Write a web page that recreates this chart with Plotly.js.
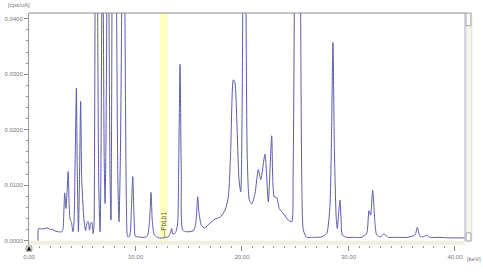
<!DOCTYPE html>
<html>
<head>
<meta charset="utf-8">
<script src="https://cdn.plot.ly/plotly-3.0.1.min.js"></script>
<style>
html,body{margin:0;padding:0;background:#fff;}
#chart{width:483px;height:272px;}
</style>
</head>
<body>
<div id="chart"></div>
<script>
const energyKeV = [
  0.85,0.90,1.20,1.50,1.70,1.90,2.20,2.50,2.80,3.10,
  3.20,3.27,3.35,3.47,3.58,3.68,3.77,3.87,3.98,4.12,
  4.22,4.33,4.45,4.53,4.64,4.74,4.85,4.95,5.08,5.20,
  5.32,5.45,5.57,5.68,5.80,5.90,6.02,6.10,6.15,6.20,
  6.33,6.45,6.55,6.67,6.75,6.83,6.905,6.98,7.06,7.14,
  7.22,7.30,7.40,7.51,7.62,7.70,7.74,7.79,8.01,8.23,
  8.35,8.45,8.58,8.70,8.85,9.01,9.15,9.27,9.45,9.60,
  9.74,9.86,9.98,10.20,10.50,10.80,11.10,11.30,11.46,11.58,
  11.74,11.90,12.20,12.60,12.90,13.10,13.30,13.40,13.50,13.75,
  13.95,14.05,14.18,14.30,14.43,14.80,15.43,15.65,15.84,15.96,
  16.20,16.50,17.00,17.46,17.93,18.40,18.72,18.94,19.18,19.34,
  19.50,19.72,19.88,20.07,20.22,20.38,20.50,20.69,20.91,21.22,
  21.53,21.76,22.16,22.47,22.79,23.03,23.26,23.50,23.88,24.35,
  24.67,24.80,24.91,25.21,25.51,25.62,25.76,26.07,26.50,27.00,
  27.50,27.95,28.25,28.40,28.54,28.68,28.85,28.95,29.08,29.20,
  29.30,29.42,29.83,30.50,31.20,31.70,31.92,32.08,32.27,32.49,
  32.65,33.00,33.33,33.74,34.50,35.50,36.24,36.46,36.71,37.05,
  37.34,37.65,38.50,39.50,40.90
];
const intensity = [
  0.0000,0.0022,0.0021,0.0022,0.0023,0.0021,0.0020,0.0017,0.0016,0.0016,
  0.0022,0.0050,0.0086,0.0058,0.0090,0.01245,0.0065,0.0037,0.0034,0.0016,
  0.0030,0.0140,0.0275,0.0130,0.0016,0.0110,0.0251,0.0110,0.0060,0.0030,
  0.0018,0.0033,0.0034,0.0019,0.0032,0.0033,0.0013,0.0025,0.0150,0.0410,
  0.1200,0.0410,0.0100,0.0016,0.0120,0.0410,0.0700,0.0410,0.0150,0.0067,
  0.0160,0.0410,0.0800,0.0410,0.0100,0.0037,0.0150,0.0410,0.1500,0.0410,
  0.0100,0.0034,0.0150,0.0410,0.1000,0.0410,0.0060,0.0007,0.0008,0.0050,
  0.01155,0.0045,0.0008,0.0007,0.0006,0.0006,0.0008,0.0030,0.0087,0.0035,
  0.0012,0.0008,0.0005,0.0005,0.0006,0.0007,0.0016,0.0022,0.0012,0.0014,
  0.0030,0.0120,0.0318,0.0120,0.0019,0.0016,0.0018,0.0030,0.0079,0.0050,
  0.0027,0.0023,0.0032,0.0039,0.0042,0.0055,0.0079,0.0164,0.0290,0.0284,
  0.0224,0.0110,0.0088,0.0410,0.1500,0.0410,0.0146,0.0073,0.0066,0.0085,
  0.0128,0.0110,0.0156,0.0070,0.0189,0.0079,0.0078,0.0058,0.0049,0.0037,
  0.0034,0.0120,0.0410,0.2000,0.0410,0.0100,0.0019,0.0006,0.0006,0.0006,
  0.0007,0.0013,0.0060,0.0180,0.0357,0.0160,0.0040,0.0022,0.0050,0.0073,
  0.0040,0.0010,0.0006,0.0006,0.0006,0.0013,0.0054,0.0046,0.0091,0.0031,
  0.0010,0.0007,0.0012,0.0006,0.0006,0.0006,0.0010,0.0024,0.0008,0.0007,
  0.0010,0.0006,0.0006,0.0005,0.0005
];
// Marked line (ROI band) and its label
const roiStart = 12.30;
const roiEnd = 13.05;
const roiLine = 12.61;
const roiLabel = "—PbLb1";
// Axis ranges and labels
const xRange = [0, 40.94];
const yRange = [-0.00078, 0.04103];
const yUnit = "[cps/uA]";
const xUnit = "[keV]";

const gray = '#777';
const trace = {
  x: energyKeV, y: intensity, type: 'scatter', mode: 'lines',
  line: {color: 'rgb(92,92,172)', width: 1, shape: 'spline', smoothing: 0.6},
  hoverinfo: 'skip'
};

const layout = {
  width: 483, height: 272,
  margin: {l: 29, r: 18, t: 13, b: 27},
  paper_bgcolor: '#fff', plot_bgcolor: '#fff',
  showlegend: false,
  font: {family: 'Liberation Sans, Arial, sans-serif', size: 6, color: gray},
  xaxis: {
    range: xRange, dtick: 10, tick0: 0, tickformat: '.2f',
    ticks: 'outside', ticklen: 5, tickcolor: '#888', tickwidth: 1,
    minor: {dtick: 1, ticklen: 2, tickcolor: '#999', ticks: 'outside'},
    showline: false, showgrid: false, zeroline: false,
    tickfont: {size: 6, color: gray}, ticklabelstandoff: 1
  },
  yaxis: {
    range: yRange, dtick: 0.01, tick0: 0, tickformat: '.4f',
    ticks: 'outside', ticklen: 4, tickcolor: '#888', tickwidth: 1,
    minor: {dtick: 0.002, ticklen: 2, tickcolor: '#999', ticks: 'outside'},
    showline: true, linecolor: '#999', linewidth: 1,
    showgrid: false, zeroline: false,
    tickfont: {size: 6, color: gray}
  },
  shapes: [
    {type: 'rect', xref: 'x', yref: 'y', x0: roiStart, x1: roiEnd, y0: 0, y1: yRange[1],
     fillcolor: 'rgb(255,255,190)', line: {width: 0}, layer: 'below'},
    {type: 'rect', xref: 'paper', yref: 'y', x0: 0, x1: 1, y0: yRange[0], y1: 0,
     fillcolor: '#f2f0e2', line: {width: 0}, layer: 'below'},
    {type: 'line', xref: 'paper', yref: 'paper', x0: 0, x1: 1.002, y0: 1, y1: 1,
     line: {color: '#8a8a8a', width: 1}},
    {type: 'line', xref: 'paper', yref: 'paper', x0: 1, x1: 1, y0: 0.017, y1: 1,
     line: {color: '#a8a8d8', width: 1}},
    {type: 'rect', xref: 'paper', yref: 'paper', x0: 1.0025, x1: 1.0155, y0: 0.017, y1: 1,
     fillcolor: '#f6f5ee', line: {color: '#e0ded2', width: 1}},
    {type: 'rect', xref: 'paper', yref: 'paper', x0: 1.0025, x1: 1.0135, y0: 0.945, y1: 1,
     fillcolor: '#fbfbf7', line: {color: '#a9a9a0', width: 1}},
    {type: 'rect', xref: 'paper', yref: 'paper', x0: 1.0025, x1: 1.0135, y0: 0.017, y1: 0.052,
     fillcolor: '#fbfbf7', line: {color: '#a9a9a0', width: 1}},
    {type: 'rect', xref: 'paper', yref: 'paper', x0: -0.07, x1: 1.05, y0: -0.117, y1: -0.14,
     fillcolor: '#f4f3ec', line: {width: 0}},
    {type: 'rect', xref: 'paper', yref: 'paper', x0: -0.0065, x1: 0.0065, y0: -0.004, y1: -0.027,
     fillcolor: '#e8e8e8', line: {color: '#666', width: 0.6}},
    {type: 'path', xref: 'paper', yref: 'paper',
     path: 'M -0.004 -0.023 L 0 -0.008 L 0.004 -0.023 Z',
     fillcolor: '#000', line: {color: '#000', width: 0.5}}
  ],
  annotations: [
    {text: yUnit, xref: 'paper', yref: 'paper', x: -0.052, y: 1.034,
     xanchor: 'left', yanchor: 'middle', showarrow: false,
     font: {size: 6, color: gray}},
    {text: xUnit, xref: 'paper', yref: 'paper', x: 1.0, y: -0.06,
     xanchor: 'left', yanchor: 'middle', showarrow: false,
     font: {size: 6, color: gray}},
    {text: roiLabel, xref: 'x', yref: 'y', x: roiLine, y: 0.0003,
     xanchor: 'center', yanchor: 'bottom', textangle: -90, showarrow: false,
     font: {size: 6.5, color: '#555'}}
  ]
};

Plotly.newPlot('chart', [trace], layout, {displayModeBar: false, staticPlot: true});
</script>
</body>
</html>
